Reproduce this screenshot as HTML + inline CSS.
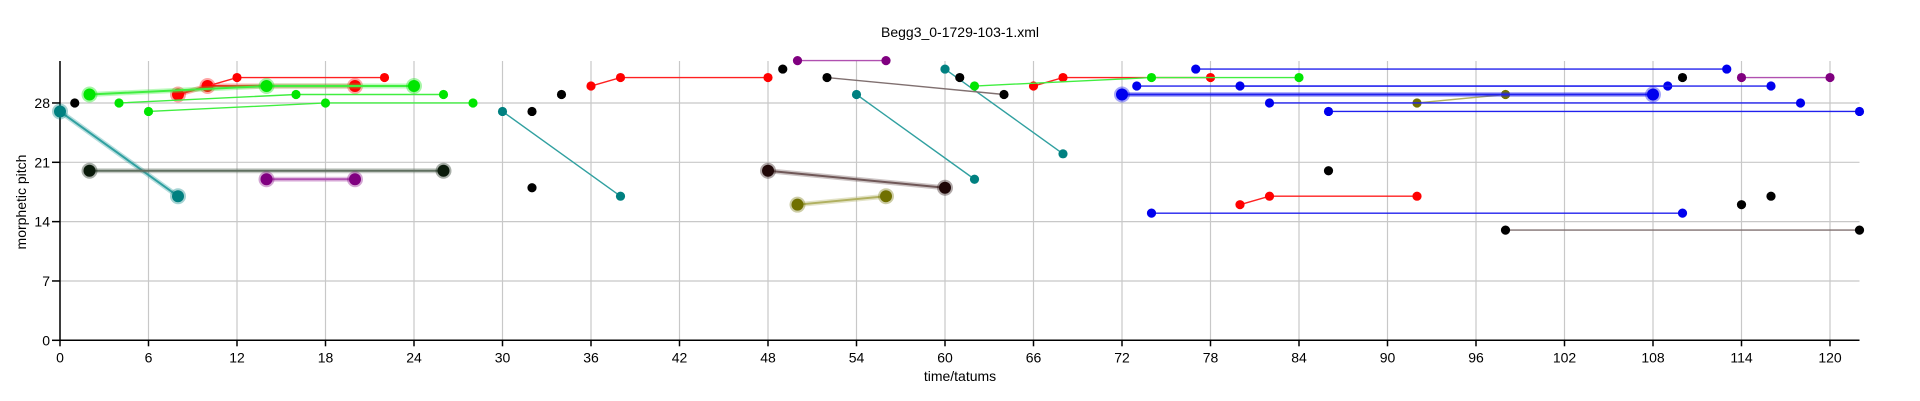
<!DOCTYPE html>
<html><head><meta charset="utf-8"><style>
html,body{margin:0;padding:0;background:#fff;}
svg{display:block;font-family:"Liberation Sans",sans-serif;}
</style></head><body>
<svg id="chart" width="1920" height="401" viewBox="0 0 1920 401">
<text x="960" y="37" text-anchor="middle" font-size="14">Begg3_0-1729-103-1.xml</text>
<g id="grid"></g>
<g id="axes"></g>
<g id="marks"></g>
<text x="960" y="381" text-anchor="middle" font-size="14">time/tatums</text>
<text transform="translate(26,202) rotate(-90)" text-anchor="middle" font-size="14">morphetic pitch</text>
</svg>
<script>
const xTicks = [0,6,12,18,24,30,36,42,48,54,60,66,72,78,84,90,96,102,108,114,120];
const yTicks = [0,7,14,21,28];
const chainColors = ['teal','teal','teal','teal','dark','brown','olive','olive','purple','purple','purple',
  'red','red','red','red','red','green','green','green','green',
  'blue','blue','blue','blue','blue','blue','blue','black','black'];
const chainBig = [1,0,0,0,1,1,1,0,1,0,0, 1,0,0,0,0, 1,0,0,0, 0,0,0,1,0,0,0,0,0];
const chainPoints = [
 [[0,27],[8,17]], [[30,27],[38,17]], [[54,29],[62,19]], [[60,32],[68,22]],
 [[2,20],[26,20]], [[48,20],[60,18]],
 [[50,16],[56,17]], [[92,28],[98,29]],
 [[14,19],[20,19]], [[50,33],[56,33]], [[114,31],[120,31]],
 [[8,29],[10,30],[20,30]], [[10,30],[12,31],[22,31]], [[36,30],[38,31],[48,31]], [[66,30],[68,31],[78,31]], [[80,16],[82,17],[92,17]],
 [[2,29],[14,30],[24,30]], [[4,28],[16,29],[26,29]], [[6,27],[18,28],[28,28]], [[62,30],[74,31],[84,31]],
 [[77,32],[113,32]], [[73,30],[109,30]], [[80,30],[116,30]], [[72,29],[108,29]], [[82,28],[118,28]], [[86,27],[122,27]], [[74,15],[110,15]],
 [[52,31],[64,29]], [[98,13],[122,13]]
];
const singleDots = [[1,28],[32,27],[34,29],[49,32],[61,31],[32,18],[86,20],[110,31],[114,16],[116,17]];

const X0=60, XS=14.75, Y0=340.3, YS=8.476, XMAX=122, YTOP=61;
const xs = t => X0 + t*XS;
const ys = p => Y0 - p*YS;
const NS='http://www.w3.org/2000/svg';
function mk(tag, attrs, parent){const e=document.createElementNS(NS,tag);for(const k in attrs)e.setAttribute(k,attrs[k]);parent.appendChild(e);return e;}
const pal = {
 teal:{f:'#008080',l:'#30a0a0'}, dark:{f:'#0a1a0a',l:'#607060'}, brown:{f:'#200808',l:'#705858'},
 olive:{f:'#707000',l:'#b0b060'}, purple:{f:'#800080',l:'#b050b0'}, red:{f:'#ff0000',l:'#ff2020'},
 green:{f:'#00e600',l:'#40ee40'}, blue:{f:'#0000ee',l:'#2020ee'}, black:{f:'#000000',l:'#807070'}
};
const grid=document.getElementById('grid'), axes=document.getElementById('axes'), marks=document.getElementById('marks');
xTicks.forEach(t=>{
 const g=mk('line',{x1:xs(t),x2:xs(t),y1:YTOP,y2:Y0,stroke:'#c8c8c8','stroke-width':1.2},grid);
 
 
 mk('line',{x1:xs(t),x2:xs(t),y1:Y0,y2:Y0+6,stroke:'#000','stroke-width':1.5},axes);
 const tx=mk('text',{x:xs(t),y:Y0+22,'text-anchor':'middle','font-size':14},axes);
 tx.textContent=t;
 
 
});
yTicks.forEach(p=>{
 const g=mk('line',{x1:X0,x2:xs(XMAX),y1:ys(p),y2:ys(p),stroke:'#c8c8c8','stroke-width':1.2},grid);
 
 
 mk('line',{x1:X0-8,x2:X0,y1:ys(p),y2:ys(p),stroke:'#000','stroke-width':1.5},axes);
 const tx=mk('text',{x:X0-10,y:ys(p)+5,'text-anchor':'end','font-size':14},axes);
 tx.textContent=p;
 
 
});
mk('line',{x1:X0,x2:X0,y1:YTOP,y2:Y0,stroke:'#000','stroke-width':1.5},axes);
mk('line',{x1:X0,x2:xs(XMAX),y1:Y0,y2:Y0,stroke:'#000','stroke-width':1.5},axes);

chainPoints.forEach((pts,i)=>{
 const c=pal[chainColors[i]], big=chainBig[i];
 const d=pts.map((q,j)=>(j?'L':'M')+xs(q[0])+','+ys(q[1])).join(' ');
 if(big){
  const h=mk('path',{d:d,fill:'none',stroke:c.l,'stroke-width':5,'stroke-opacity':0.35},marks);
  
  
 }
 const ln=mk('path',{d:d,fill:'none',stroke:c.l,'stroke-width':big?2:1.4},marks);
 
 
 pts.forEach(q=>{
  if(big){
   const h=mk('circle',{cx:xs(q[0]),cy:ys(q[1]),r:8,fill:c.f,'fill-opacity':0.35},marks);
   
   
  }
  const pt=mk('circle',{cx:xs(q[0]),cy:ys(q[1]),r:big?6:4.6,fill:c.f},marks);
  
  
 });
});
singleDots.forEach(q=>{
 const pt=mk('circle',{cx:xs(q[0]),cy:ys(q[1]),r:4.6,fill:'#000'},marks);
 
 
});
</script>
</body></html>
